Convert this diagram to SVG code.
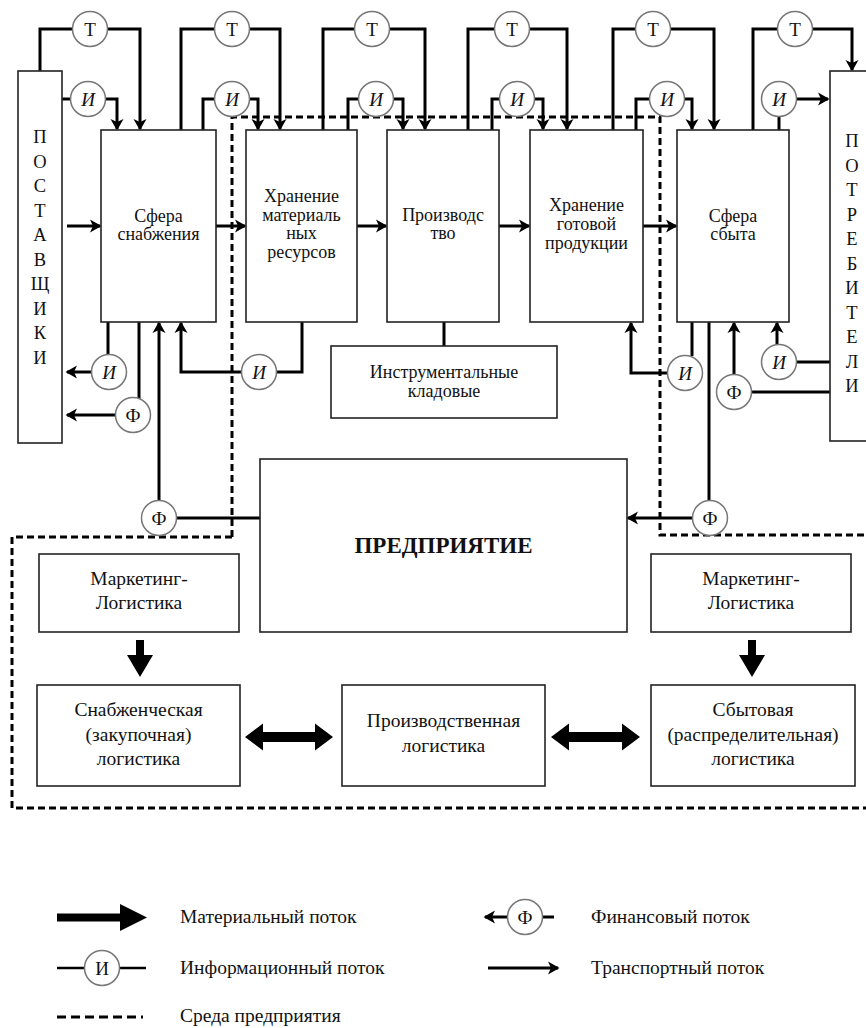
<svg xmlns="http://www.w3.org/2000/svg" width="866" height="1028" viewBox="0 0 866 1028">
<style>
.box{fill:#fff;stroke:#222;stroke-width:1.6}
.ln{fill:none;stroke:#000;stroke-width:3}
.arr{marker-end:url(#ah)}
.circ{fill:#fff;stroke:#777;stroke-width:1.5}
.t{font-family:"Liberation Serif","Times New Roman",serif;font-size:18px;fill:#111;text-anchor:middle}
.tb{font-size:19.5px}
.vl{font-size:18.5px}
.big{font-size:23px;font-weight:bold}
.lg{font-family:"Liberation Serif","Times New Roman",serif;font-size:19.5px;fill:#111}
.ci{font-family:"Liberation Serif","Times New Roman",serif;font-size:19px;fill:#111;text-anchor:middle}
.it{font-style:italic}
.dash{fill:none;stroke:#000;stroke-width:3;stroke-dasharray:7 4}
.blk{fill:#000}
</style>
<defs>
<marker id="ah" viewBox="-12 -7 14 14" markerWidth="14" markerHeight="14" refX="0" refY="0" orient="auto" markerUnits="userSpaceOnUse"><path d="M1.5,0 L-10,-6.5 L-7,0 L-10,6.5 Z" fill="#000"/></marker>
</defs>

<g id="environment">
<path class="dash" d="M232,537 V117 H660 V535 H866"/>
<path class="dash" d="M232,537 H12 V808 H866"/>
</g>

<g id="connectors">
<path class="ln" d="M40,71 V29 H73"/><path class="ln arr" d="M107,29 H140 V129"/>
<path class="ln" d="M181,130 V29 H215"/><path class="ln arr" d="M249,29 H280 V129"/>
<path class="ln" d="M323,130 V29 H355"/><path class="ln arr" d="M389,29 H425 V129"/>
<path class="ln" d="M468,130 V29 H495"/><path class="ln arr" d="M529,29 H567 V129"/>
<path class="ln" d="M613,130 V29 H636"/><path class="ln arr" d="M670,29 H714 V129"/>
<path class="ln" d="M753,130 V29 H778"/><path class="ln arr" d="M812,29 H852 V70"/>
<path class="ln" d="M62,99 H71"/><path class="ln arr" d="M105,99 H117 V129"/>
<path class="ln" d="M203,130 V99 H215"/><path class="ln arr" d="M249,99 H258 V129"/>
<path class="ln" d="M348,130 V99 H359"/><path class="ln arr" d="M393,99 H403 V129"/>
<path class="ln" d="M492,130 V99 H500"/><path class="ln arr" d="M534,99 H543 V129"/>
<path class="ln" d="M636,130 V99 H650"/><path class="ln arr" d="M684,99 H692 V129"/>
<path class="ln" d="M779,130 V116"/><path class="ln arr" d="M796,99 H828"/>
<path class="ln arr" d="M67,226 H100"/>
<path class="ln arr" d="M216,226 H245"/>
<path class="ln arr" d="M357,226 H386"/>
<path class="ln arr" d="M499,226 H529"/>
<path class="ln arr" d="M643,226 H676"/>
<path class="ln" d="M108,322 V355"/><path class="ln arr" d="M92,372 H67"/>
<path class="ln" d="M139,322 V399"/><path class="ln arr" d="M116,415 H67"/>
<path class="ln arr" d="M159,501 V323"/>
<path class="ln" d="M302,322 V372 H277"/><path class="ln arr" d="M242,372 H181 V323"/>
<path class="ln" d="M176,518 H260"/>
<path class="ln" d="M444,322 V346"/>
<path class="ln" d="M692,322 V356"/><path class="ln arr" d="M668,373 H631 V323"/>
<path class="ln" d="M709,322 V501"/><path class="ln arr" d="M693,518 H628"/>
<path class="ln" d="M751,392 H830"/><path class="ln arr" d="M734,375 V323"/>
<path class="ln" d="M796,362 H830"/><path class="ln arr" d="M777,345 V323"/>
<polygon class="blk" points="136,640 144,640 144,655 153,655 140,677 127,655 136,655"/>
<polygon class="blk" points="748,640 756,640 756,655 765,655 752,677 739,655 748,655"/>
<polygon class="blk" points="245,737 263,723.5 263,732 315,732 315,723.5 333,737 315,750.5 315,742 263,742 263,750.5"/>
<polygon class="blk" points="551,737 569,723.5 569,732 622,732 622,723.5 640,737 622,750.5 622,742 569,742 569,750.5"/>
</g>

<g id="flow-markers">
<circle class="circ" cx="90" cy="29" r="17.5"/><text class="ci" x="90" y="35.5">Т</text>
<circle class="circ" cx="232" cy="29" r="17.5"/><text class="ci" x="232" y="35.5">Т</text>
<circle class="circ" cx="372" cy="29" r="17.5"/><text class="ci" x="372" y="35.5">Т</text>
<circle class="circ" cx="512" cy="29" r="17.5"/><text class="ci" x="512" y="35.5">Т</text>
<circle class="circ" cx="653" cy="29" r="17.5"/><text class="ci" x="653" y="35.5">Т</text>
<circle class="circ" cx="795" cy="29" r="17.5"/><text class="ci" x="795" y="35.5">Т</text>
<circle class="circ" cx="88" cy="99" r="17.5"/><text class="ci it" x="88" y="105.5">И</text>
<circle class="circ" cx="232" cy="99" r="17.5"/><text class="ci it" x="232" y="105.5">И</text>
<circle class="circ" cx="376" cy="99" r="17.5"/><text class="ci it" x="376" y="105.5">И</text>
<circle class="circ" cx="517" cy="99" r="17.5"/><text class="ci it" x="517" y="105.5">И</text>
<circle class="circ" cx="667" cy="99" r="17.5"/><text class="ci it" x="667" y="105.5">И</text>
<circle class="circ" cx="779" cy="99" r="17.5"/><text class="ci it" x="779" y="105.5">И</text>
<circle class="circ" cx="109" cy="372" r="17.5"/><text class="ci it" x="109" y="378.5">И</text>
<circle class="circ" cx="133" cy="415" r="17.5"/><text class="ci" x="133" y="421.5">Ф</text>
<circle class="circ" cx="259" cy="372" r="17.5"/><text class="ci it" x="259" y="378.5">И</text>
<circle class="circ" cx="159" cy="518" r="17.5"/><text class="ci" x="159" y="524.5">Ф</text>
<circle class="circ" cx="685" cy="373" r="17.5"/><text class="ci it" x="685" y="379.5">И</text>
<circle class="circ" cx="710" cy="518" r="17.5"/><text class="ci" x="710" y="524.5">Ф</text>
<circle class="circ" cx="734" cy="392" r="17.5"/><text class="ci" x="734" y="398.5">Ф</text>
<circle class="circ" cx="779" cy="362" r="17.5"/><text class="ci it" x="779" y="368.5">И</text>
</g>

<g id="suppliers">
<rect class="box" x="18" y="71" width="44" height="372"/>
<text class="t vl">
<tspan x="40" y="143">П</tspan><tspan x="40" y="167.5">О</tspan><tspan x="40" y="192">С</tspan><tspan x="40" y="216.5">Т</tspan><tspan x="40" y="241">А</tspan><tspan x="40" y="265.5">В</tspan><tspan x="40" y="290">Щ</tspan><tspan x="40" y="314.5">И</tspan><tspan x="40" y="339">К</tspan><tspan x="40" y="363.5">И</tspan>
</text>
</g>

<g id="consumers">
<rect class="box" x="830" y="71" width="50" height="370"/>
<text class="t vl">
<tspan x="852" y="147">П</tspan><tspan x="852" y="171.5">О</tspan><tspan x="852" y="196">Т</tspan><tspan x="852" y="220.5">Р</tspan><tspan x="852" y="245">Е</tspan><tspan x="852" y="269.5">Б</tspan><tspan x="852" y="294">И</tspan><tspan x="852" y="318.5">Т</tspan><tspan x="852" y="343">Е</tspan><tspan x="852" y="367.5">Л</tspan><tspan x="852" y="392">И</tspan>
</text>
</g>

<g id="supply-sphere">
<rect class="box" x="101" y="130" width="115" height="192"/>
<text class="t"><tspan x="158.5" y="222">Сфера</tspan><tspan x="158.5" y="240">снабжения</tspan></text>
</g>

<g id="material-storage">
<rect class="box" x="246" y="130" width="111" height="192"/>
<text class="t"><tspan x="301.5" y="202">Хранение</tspan><tspan x="301.5" y="221">материаль</tspan><tspan x="301.5" y="239">ных</tspan><tspan x="301.5" y="258">ресурсов</tspan></text>
</g>

<g id="production">
<rect class="box" x="387" y="130" width="112" height="192"/>
<text class="t"><tspan x="443" y="221">Производс</tspan><tspan x="443" y="239">тво</tspan></text>
</g>

<g id="finished-storage">
<rect class="box" x="530" y="130" width="113" height="192"/>
<text class="t"><tspan x="586.5" y="211">Хранение</tspan><tspan x="586.5" y="230">готовой</tspan><tspan x="586.5" y="249">продукции</tspan></text>
</g>

<g id="sales-sphere">
<rect class="box" x="677" y="130" width="112" height="192"/>
<text class="t"><tspan x="733" y="222">Сфера</tspan><tspan x="733" y="240">сбыта</tspan></text>
</g>

<g id="tool-stores">
<rect class="box" x="331" y="346" width="226" height="72"/>
<text class="t"><tspan x="444" y="378">Инструментальные</tspan><tspan x="444" y="397">кладовые</tspan></text>
</g>

<g id="enterprise">
<rect class="box" x="260" y="459" width="367" height="173"/>
<text class="t big" x="443.5" y="553">ПРЕДПРИЯТИЕ</text>
</g>

<g id="marketing-left">
<rect class="box" x="39" y="554" width="200" height="78"/>
<text class="t tb"><tspan x="139" y="585">Маркетинг-</tspan><tspan x="139" y="609">Логистика</tspan></text>
</g>

<g id="marketing-right">
<rect class="box" x="651" y="554" width="200" height="78"/>
<text class="t tb"><tspan x="751" y="585">Маркетинг-</tspan><tspan x="751" y="609">Логистика</tspan></text>
</g>

<g id="supply-logistics">
<rect class="box" x="37" y="685" width="203" height="101"/>
<text class="t tb"><tspan x="138.5" y="716">Снабженческая</tspan><tspan x="138.5" y="741">(закупочная)</tspan><tspan x="138.5" y="765">логистика</tspan></text>
</g>

<g id="production-logistics">
<rect class="box" x="342" y="685" width="203" height="101"/>
<text class="t tb"><tspan x="443.5" y="727">Производственная</tspan><tspan x="443.5" y="752">логистика</tspan></text>
</g>

<g id="sales-logistics">
<rect class="box" x="651" y="685" width="204" height="101"/>
<text class="t tb"><tspan x="753" y="716">Сбытовая</tspan><tspan x="753" y="741">(распределительная)</tspan><tspan x="753" y="765">логистика</tspan></text>
</g>

<g id="legend">
<polygon class="blk" points="57,913.5 120,913.5 120,904 147,917.5 120,931 120,921.5 57,921.5"/>
<text class="lg" x="180" y="923">Материальный поток</text>
<path class="ln" d="M57,968 H84 M120,968 H146" style="stroke-width:2.5"/>
<circle class="circ" cx="102" cy="968" r="17.5"/><text class="ci" x="102" y="974.5">И</text>
<text class="lg" x="180" y="974">Информационный поток</text>
<path class="dash" d="M57,1017 H143" style="stroke-dasharray:9 5"/>
<text class="lg" x="180" y="1022">Среда предприятия</text>
<path class="ln arr" d="M507,917 H485"/>
<path class="ln" d="M543,917 H554"/>
<circle class="circ" cx="525" cy="917" r="17.5"/><text class="ci" x="525" y="923.5">Ф</text>
<text class="lg" x="591" y="923">Финансовый поток</text>
<path class="ln arr" d="M488,968 H558"/>
<text class="lg" x="591" y="974">Транспортный поток</text>
</g>
</svg>
